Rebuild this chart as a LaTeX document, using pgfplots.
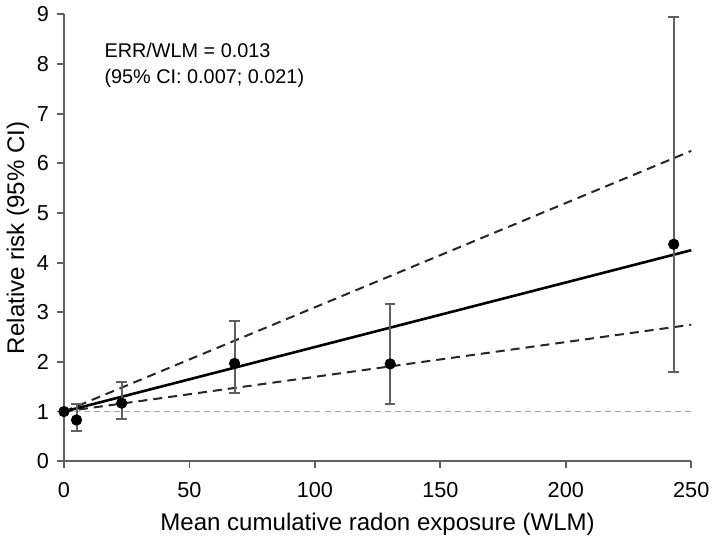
\documentclass[border=0pt]{standalone}
\usepackage{pgfplots}
\pgfplotsset{compat=1.18}
\usepackage{fontspec}
\setmainfont{Liberation Sans}
\begin{document}
\begin{tikzpicture}
\begin{axis}[
    scale only axis,
    width=313pt, height=223pt,
    xmin=0, xmax=250, ymin=0, ymax=9,
    axis lines=left,
    axis line style={draw=gray!75!black, line width=1pt, -},
    xtick={0,50,...,250},
    ytick={0,1,...,9},
    tick style={draw=gray!75!black, line width=0.9pt},
    tick align=outside,
    major tick length=3.5pt,
    clip=false,
    tick label style={font=\fontsize{10.8}{13}\selectfont},
    xticklabel style={yshift=-3.5pt},
    yticklabel style={xshift=-0.5pt},
    label style={font=\fontsize{12}{14}\selectfont},
    /pgf/number format/assume math mode=true,
    xlabel={Mean cumulative radon exposure (WLM)},
    ylabel={Relative risk (95\% CI)},
    xlabel style={yshift=-1pt},
    ylabel style={yshift=-3pt},
]
% reference line RR = 1
\addplot[gray!70, line width=0.8pt, dash pattern=on 3pt off 2pt] coordinates {(0,1) (250,1)};
% confidence bounds
\addplot[black!85, line width=1pt, dash pattern=on 4.5pt off 3pt] coordinates {(0,1) (250,6.25)};
\addplot[black!85, line width=1pt, dash pattern=on 4.5pt off 3pt] coordinates {(0,1) (250,2.75)};
% fitted line
\addplot[black, line width=1.3pt] coordinates {(0,1) (250,4.25)};
% observed relative risks
\addplot[only marks, mark=*, mark size=2.6pt, black,
    error bars/.cd, y dir=both, y explicit,
    error bar style={gray!75!black, line width=1pt},
    error mark options={rotate=90, mark size=2.6pt, gray!75!black, line width=1pt}]
coordinates {
    (0,1)
    (5,0.83) += (0,0.32) -= (0,0.23)
    (23,1.17) += (0,0.43) -= (0,0.32)
    (68,1.97) += (0,0.85) -= (0,0.60)
    (130,1.96) += (0,1.21) -= (0,0.81)
    (243,4.37) += (0,4.58) -= (0,2.57)
};
\node[anchor=north west, align=left, inner sep=0pt, font=\fontsize{9.9}{13}\selectfont] at (axis cs:16,8.42)
    {ERR/WLM = 0.013\\(95\% CI: 0.007; 0.021)};
\end{axis}
\end{tikzpicture}
\end{document}
